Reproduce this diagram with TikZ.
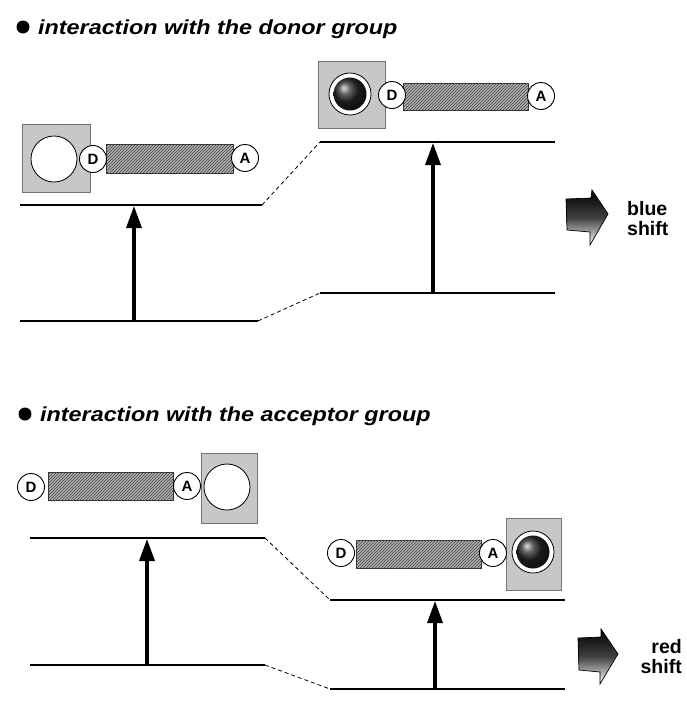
\documentclass[tikz,border=0pt]{standalone}
\usepackage{fontspec}
\setmainfont{Liberation Sans}
\newfontfamily\titlefont[FakeStretch=1.15]{Liberation Sans}
\usetikzlibrary{arrows.meta,patterns,shadings}
\begin{document}
\begin{tikzpicture}[x=1pt,y=-1pt,
  title/.style={anchor=base west,font=\titlefont\fontsize{20.3}{22}\selectfont\bfseries\itshape,inner sep=0pt},
  bulletdot/.style={circle,fill=black,inner sep=0pt,minimum size=13pt},
  graybox/.style={draw=black!55,fill=black!22,line width=0.8pt},
  hatchbar/.style={draw=black!80,line width=0.8pt,fill=black!30,postaction={pattern=north east lines,pattern color=black!75}},
  endgrp/.style={circle,draw=black,line width=0.9pt,fill=white,minimum size=27pt,inner sep=0pt,font=\fontsize{15}{16}\selectfont\bfseries},
  bigring/.style={circle,draw=black,line width=0.8pt,fill=white,inner sep=0pt},
  level/.style={line width=1.8pt},
  link/.style={line width=0.8pt,dash pattern=on 4pt off 3pt},
  excite/.style={line width=3.4pt,-{Triangle[length=22pt,width=15pt]}},
  shiftlbl/.style={font=\fontsize{19.5}{20}\selectfont\bfseries,inner sep=0pt},
  blockarrow/.style={top color=black,bottom color=white,middle color=black!75,draw=black,line width=0.7pt}
]
\useasboundingbox (0,0) rectangle (687,715);

% ===== top panel =====
\node[bulletdot] (b1) at (23,27) {};
\node[title] (t1) at (38,34) {interaction with the donor group};

% molecule left (free)
\node[graybox,draw,minimum width=68pt,minimum height=68pt,inner sep=0pt] (sq1) at (56,158) {};
\node[bigring,minimum size=46pt] (ring1) at (54,159) {};
\path[hatchbar] (106,144) rectangle (233,173);
\node[endgrp] (d1) at (93,159) {D};
\node[endgrp] (a1) at (245,158) {A};

% molecule right (bound)
\node[graybox,draw,minimum width=67pt,minimum height=67pt,inner sep=0pt] (sq2) at (352,95) {};
\node[bigring,minimum size=42pt] (ring2) at (350,94) {};
\shade[ball color=black!85] (350,94) circle (16.5pt);
\path[hatchbar] (403,83) rectangle (528,110);
\node[endgrp] (d2) at (392,95) {D};
\node[endgrp] (a2) at (541,96) {A};

% levels
\coordinate (u1a) at (20,205);  \coordinate (u1b) at (262,205);
\coordinate (u2a) at (320,142); \coordinate (u2b) at (555,142);
\coordinate (l1a) at (20,321);  \coordinate (l1b) at (258,321);
\coordinate (l2a) at (320,293); \coordinate (l2b) at (555,293);
\draw[level] (u1a) -- (u1b);
\draw[level] (u2a) -- (u2b);
\draw[level] (l1a) -- (l1b);
\draw[level] (l2a) -- (l2b);
\draw[link] (u1b) -- (u2a);
\draw[link] (l1b) -- (l2a);
\coordinate (e1s) at (134,321); \coordinate (e1t) at (134,206);
\coordinate (e2s) at (433,293); \coordinate (e2t) at (433,143);
\draw[excite] (e1s) -- (e1t);
\draw[excite] (e2s) -- (e2t);

% blue shift
\shade[blockarrow]
  (566,199) -- (591,198) -- (592,190) -- (608,214) -- (590,245) -- (590,232) -- (567,230) -- cycle;
\node[shiftlbl,anchor=west,align=left] (bs) at (627,219) {blue\\shift};

% ===== bottom panel =====
\node[bulletdot] (b2) at (25,414) {};
\node[title] (t2) at (40,421) {interaction with the acceptor group};

% molecule left (free)
\path[hatchbar] (48,472) rectangle (173,500);
\node[graybox,draw,minimum width=56pt,minimum height=70pt,inner sep=0pt] (sq3) at (229,488) {};
\node[bigring,minimum size=46pt] (ring3) at (227,487) {};
\node[endgrp] (d3) at (31,487) {D};
\node[endgrp] (a3) at (187,486) {A};

% molecule right (bound)
\path[hatchbar] (356,540) rectangle (481,568);
\node[graybox,draw,minimum width=55pt,minimum height=72pt,inner sep=0pt] (sq4) at (534,554) {};
\node[bigring,minimum size=42pt] (ring4) at (533,552) {};
\shade[ball color=black!85] (533,552) circle (16.5pt);
\node[endgrp] (d4) at (341,553) {D};
\node[endgrp] (a4) at (493,553) {A};

% levels
\coordinate (u3a) at (30,538);  \coordinate (u3b) at (265,538);
\coordinate (u4a) at (330,600); \coordinate (u4b) at (565,600);
\coordinate (l3a) at (30,665);  \coordinate (l3b) at (265,665);
\coordinate (l4a) at (330,689); \coordinate (l4b) at (565,689);
\draw[level] (u3a) -- (u3b);
\draw[level] (u4a) -- (u4b);
\draw[level] (l3a) -- (l3b);
\draw[level] (l4a) -- (l4b);
\draw[link] (u3b) -- (u4a);
\draw[link] (l3b) -- (l4a);
\coordinate (e3s) at (147,665); \coordinate (e3t) at (147,539);
\coordinate (e4s) at (435,689); \coordinate (e4t) at (435,601);
\draw[excite] (e3s) -- (e3t);
\draw[excite] (e4s) -- (e4t);

% red shift
\shade[blockarrow]
  (578,638) -- (601,637) -- (601,629) -- (618,654) -- (600,684) -- (600,672) -- (579,670) -- cycle;
\node[shiftlbl,anchor=east,align=right] (rs) at (682,657) {red\\shift};
\end{tikzpicture}
\end{document}
